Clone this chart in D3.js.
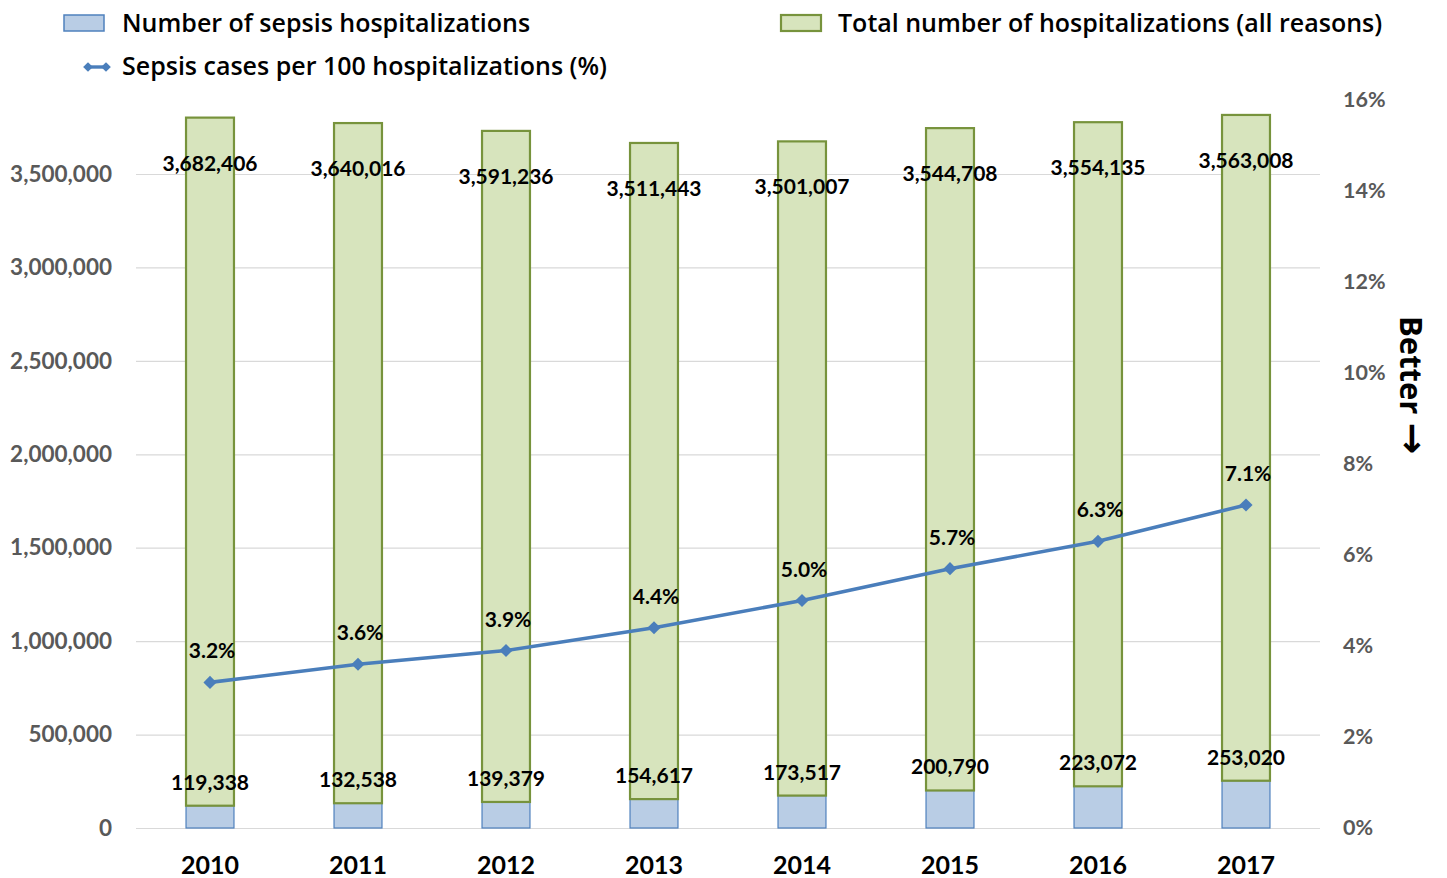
<!DOCTYPE html>
<html>
<head>
<meta charset="utf-8">
<script src="https://cdn.jsdelivr.net/npm/d3@7"></script>
<style>
  body { margin: 0; background: #fff; }
  text { font-family: Lato, "Open Sans", sans-serif; }
</style>
</head>
<body>
<div id="chart"></div>
<script>
// Data
const years = ['2010', '2011', '2012', '2013', '2014', '2015', '2016', '2017']
const sepsis = [119338, 132538, 139379, 154617, 173517, 200790, 223072, 253020]
const totals = [3682406, 3640016, 3591236, 3511443, 3501007, 3544708, 3554135, 3563008]
const rates = [3.2, 3.6, 3.9, 4.4, 5.0, 5.7, 6.3, 7.1]
const leftTicks = [0, 500000, 1000000, 1500000, 2000000, 2500000, 3000000, 3500000]
const rightTicks = [0, 2, 4, 6, 8, 10, 12, 14, 16]

const W = 1447, H = 878
const PLOT = { left: 136, right: 1320, top: 100, bottom: 828 }

const svg = d3.select('#chart')
    .append('svg')
    .attr('width', W)
    .attr('height', H)

// Scales
const x = d3.scaleBand()
    .domain(years)
    .range([PLOT.left, PLOT.right])
    .paddingInner(0.676)
    .paddingOuter(0.338)

const y = d3.scaleLinear()
    .domain([0, 3896000])
    .range([PLOT.bottom, PLOT.top])

const yR = d3.scaleLinear()
    .domain([0, 16])
    .range([PLOT.bottom, PLOT.top])

const fmt = d3.format(',')

// Gridlines
svg.append('g')
    .selectAll('line')
    .data(leftTicks)
    .join('line')
    .attr('x1', PLOT.left)
    .attr('x2', PLOT.right)
    .attr('y1', d => y(d) + 0.5)
    .attr('y2', d => y(d) + 0.5)
    .attr('stroke', '#d9d9d9')
    .attr('stroke-width', 1.2)

// Left axis
const yAxis = d3.axisLeft(y).tickValues(leftTicks).tickFormat(fmt).tickSize(0).tickPadding(0)
svg.append('g')
    .attr('transform', 'translate(112,0)')
    .call(yAxis)
    .call(g => g.select('.domain').remove())
    .call(g => g.selectAll('text')
        .attr('fill', '#595959')
        .attr('font-size', 22.5)
        .attr('font-weight', 'bold')
        .style('font-family', 'Lato, sans-serif'))

// Right axis
const yRAxis = d3.axisRight(yR).tickValues(rightTicks).tickFormat(d => d + '%').tickSize(0).tickPadding(0)
svg.append('g')
    .attr('transform', 'translate(1343,0)')
    .call(yRAxis)
    .call(g => g.select('.domain').remove())
    .call(g => g.selectAll('text')
        .attr('fill', '#595959')
        .attr('font-size', 21.5)
        .attr('font-weight', 'bold')
        .style('font-family', 'Lato, sans-serif'))

// X axis labels
const xAxis = d3.axisBottom(x).tickSize(0).tickPadding(0)
svg.append('g')
    .attr('transform', `translate(0,${PLOT.bottom + 28})`)
    .call(xAxis)
    .call(g => g.select('.domain').remove())
    .call(g => g.selectAll('text')
        .attr('fill', '#000')
        .attr('font-size', 25)
        .attr('font-weight', 'bold')
        .style('font-family', 'Lato, sans-serif'))

// Bars - sepsis (bottom)
svg.append('g')
    .selectAll('rect')
    .data(years)
    .join('rect')
    .attr('x', d => x(d))
    .attr('width', x.bandwidth())
    .attr('y', (d, i) => y(sepsis[i]))
    .attr('height', (d, i) => y(0) - y(sepsis[i]))
    .attr('fill', '#b9cde5')
    .attr('stroke', '#4f81bd')
    .attr('stroke-width', 1.2)

// Bars - total (stacked on top)
svg.append('g')
    .selectAll('rect')
    .data(years)
    .join('rect')
    .attr('x', d => x(d))
    .attr('width', x.bandwidth())
    .attr('y', (d, i) => y(sepsis[i] + totals[i]))
    .attr('height', (d, i) => y(sepsis[i]) - y(sepsis[i] + totals[i]))
    .attr('fill', '#d7e4bd')
    .attr('stroke', '#77933c')
    .attr('stroke-width', 2.2)

// Rate line
const line = d3.line()
    .x((d, i) => x(years[i]) + x.bandwidth() / 2)
    .y(d => yR(d))

svg.append('path')
    .datum(rates)
    .attr('d', line)
    .attr('fill', 'none')
    .attr('stroke', '#4a7ebb')
    .attr('stroke-width', 3.6)

svg.append('g')
    .selectAll('path')
    .data(rates)
    .join('path')
    .attr('d', d3.symbol(d3.symbolDiamond2, 110))
    .attr('transform', (d, i) => `translate(${x(years[i]) + x.bandwidth() / 2},${yR(d)})`)
    .attr('fill', '#4a7ebb')

// Data labels
const labelStyle = sel => sel
    .attr('text-anchor', 'middle')
    .attr('font-size', 21)
    .attr('font-weight', 'bold')
    .attr('fill', '#000')

svg.append('g')
    .selectAll('text')
    .data(totals)
    .join('text')
    .attr('x', (d, i) => x(years[i]) + x.bandwidth() / 2)
    .attr('y', (d, i) => y(sepsis[i] + d) + 53)
    .text(d => fmt(d))
    .call(labelStyle)

svg.append('g')
    .selectAll('text')
    .data(sepsis)
    .join('text')
    .attr('x', (d, i) => x(years[i]) + x.bandwidth() / 2)
    .attr('y', d => y(d) - 16)
    .text(d => fmt(d))
    .call(labelStyle)

svg.append('g')
    .selectAll('text')
    .data(rates)
    .join('text')
    .attr('x', (d, i) => x(years[i]) + x.bandwidth() / 2 + 2)
    .attr('y', d => yR(d) - 24)
    .text(d => d.toFixed(1) + '%')
    .call(labelStyle)

// Legend
const legend = svg.append('g')
legend.append('rect')
    .attr('x', 64).attr('y', 15).attr('width', 40).attr('height', 16)
    .attr('fill', '#b9cde5').attr('stroke', '#4f81bd').attr('stroke-width', 1.5)
legend.append('text')
    .attr('x', 122).attr('y', 32)
    .attr('font-size', 25).attr('font-weight', 600)
    .style('font-family', '"Open Sans", sans-serif')
    .text('Number of sepsis hospitalizations')

legend.append('rect')
    .attr('x', 781).attr('y', 15).attr('width', 40).attr('height', 16)
    .attr('fill', '#d7e4bd').attr('stroke', '#77933c').attr('stroke-width', 2.2)
legend.append('text')
    .attr('x', 838).attr('y', 32)
    .attr('font-size', 25).attr('font-weight', 600)
    .style('font-family', '"Open Sans", sans-serif')
    .text('Total number of hospitalizations (all reasons)')

legend.append('line')
    .attr('x1', 88).attr('x2', 106).attr('y1', 67).attr('y2', 67)
    .attr('stroke', '#4a7ebb').attr('stroke-width', 3.4)
legend.selectAll('.lm')
    .data([88, 106])
    .join('path')
    .attr('d', d3.symbol(d3.symbolDiamond2, 60))
    .attr('transform', d => `translate(${d},67)`)
    .attr('fill', '#4a7ebb')
legend.append('text')
    .attr('x', 122).attr('y', 75)
    .attr('font-size', 25).attr('font-weight', 600)
    .style('font-family', '"Open Sans", sans-serif')
    .text('Sepsis cases per 100 hospitalizations (%)')

// "Better" annotation
const better = svg.append('text')
    .attr('transform', 'translate(1400,316) rotate(90)')
    .attr('font-size', 31)
    .attr('font-weight', 'bold')
    .attr('fill', '#000')
    .style('font-family', '"Open Sans", sans-serif')
better.append('tspan').text('Better ')
better.append('tspan')
    .style('font-family', '"DejaVu Sans", sans-serif')
    .style('font-size', '38px')
    .text('\u2192')
</script>
</body>
</html>
